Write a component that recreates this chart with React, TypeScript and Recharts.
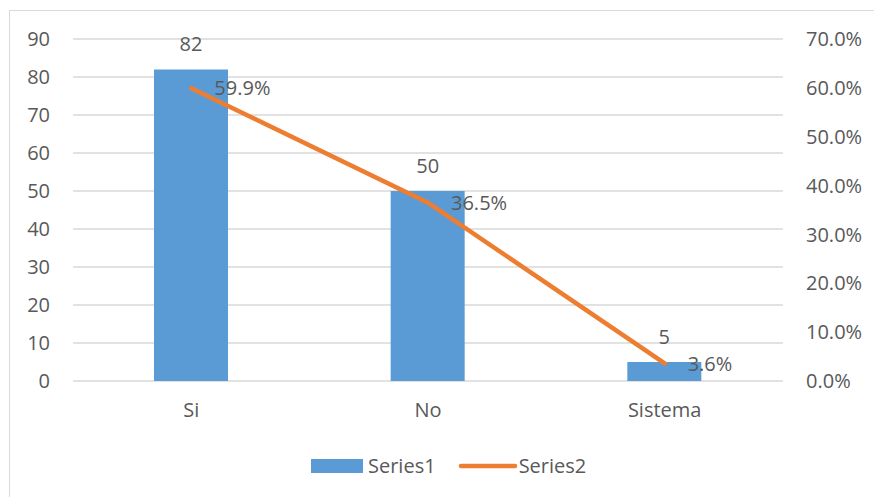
import React from 'react';
import {
  ComposedChart,
  Bar,
  Line,
  XAxis,
  YAxis,
  CartesianGrid,
  LabelList,
} from 'recharts';

// Response categories and their two series
const categories = ['Si', 'No', 'Sistema'];
const counts = [82, 50, 5];
const shares = [0.599, 0.365, 0.036];

// Axis ticks
const countTicks = [0, 10, 20, 30, 40, 50, 60, 70, 80, 90];
const shareTicks = [0, 0.1, 0.2, 0.3, 0.4, 0.5, 0.6, 0.7];

// Legend entries
const seriesNames = ['Series1', 'Series2'];

const BAR_COLOR = '#5B9BD5';
const LINE_COLOR = '#ED7D31';
const TEXT_COLOR = '#595959';
const GRID_COLOR = '#D9D9D9';
const FONT = '"Open Sans", "Liberation Sans", sans-serif';
const FONT_SIZE = 20;

const data = categories.map((name, i) => ({
  name,
  Series1: counts[i],
  Series2: shares[i],
}));

const pct = (v: number) => `${(v * 100).toFixed(1)}%`;

const tickStyle = { fill: TEXT_COLOR, fontSize: FONT_SIZE, fontFamily: FONT };

export default function App() {
  return (
    <div
      style={{
        position: 'absolute',
        left: 0,
        top: 0,
        width: 874,
        height: 497,
        overflow: 'hidden',
        background: '#fff',
        fontFamily: FONT,
      }}
    >
      <div
        style={{
          position: 'absolute',
          left: 9,
          top: 10,
          width: 900,
          height: 600,
          border: `1px solid ${GRID_COLOR}`,
          boxSizing: 'border-box',
        }}
      />
      <div style={{ position: 'absolute', left: 0, top: 0 }}>
        <ComposedChart
          width={874}
          height={497}
          data={data}
          margin={{ top: 39, right: 0, bottom: 76, left: 0 }}
        >
          <CartesianGrid
            yAxisId="left"
            vertical={false}
            stroke={GRID_COLOR}
            strokeWidth={1.3}
          />
          <XAxis
            dataKey="name"
            axisLine={false}
            tickLine={false}
            tick={tickStyle}
            tickMargin={16}
            height={40}
          />
          <YAxis
            yAxisId="left"
            orientation="left"
            domain={[0, 90]}
            ticks={countTicks}
            interval={0}
            axisLine={false}
            tickLine={false}
            tick={tickStyle}
            tickMargin={17}
            width={73}
          />
          <YAxis
            yAxisId="right"
            orientation="right"
            domain={[0, 0.7]}
            ticks={shareTicks}
            interval={0}
            axisLine={false}
            tickLine={false}
            tick={tickStyle}
            tickMargin={17}
            tickFormatter={pct}
            width={91}
          />
          <Bar
            yAxisId="left"
            dataKey="Series1"
            fill={BAR_COLOR}
            barSize={74}
            isAnimationActive={false}
          >
            <LabelList
              dataKey="Series1"
              position="top"
              offset={18}
              fill={TEXT_COLOR}
              fontSize={FONT_SIZE}
              fontFamily={FONT}
            />
          </Bar>
          <Line
            yAxisId="right"
            dataKey="Series2"
            stroke={LINE_COLOR}
            strokeWidth={4.5}
            strokeLinecap="round"
            dot={false}
            activeDot={false}
            isAnimationActive={false}
          >
            <LabelList
              dataKey="Series2"
              position="right"
              offset={23}
              formatter={(v: any) => pct(Number(v))}
              fill={TEXT_COLOR}
              fontSize={FONT_SIZE}
              fontFamily={FONT}
            />
          </Line>
        </ComposedChart>
      </div>
      {/* Legend */}
      <div
        style={{
          position: 'absolute',
          left: 311,
          top: 454,
          height: 24,
          display: 'flex',
          alignItems: 'center',
          color: TEXT_COLOR,
          fontSize: FONT_SIZE,
          lineHeight: '24px',
        }}
      >
        <svg width={52} height={14} style={{ display: 'block' }}>
          <rect x={0} y={0} width={52} height={14} fill={BAR_COLOR} />
        </svg>
        <span style={{ marginLeft: 5 }}>{seriesNames[0]}</span>
        <svg width={60} height={14} style={{ display: 'block', marginLeft: 22 }}>
          <line
            x1={3}
            y1={7}
            x2={57}
            y2={7}
            stroke={LINE_COLOR}
            strokeWidth={4.5}
            strokeLinecap="round"
          />
        </svg>
        <span style={{ marginLeft: 1 }}>{seriesNames[1]}</span>
      </div>
    </div>
  );
}
